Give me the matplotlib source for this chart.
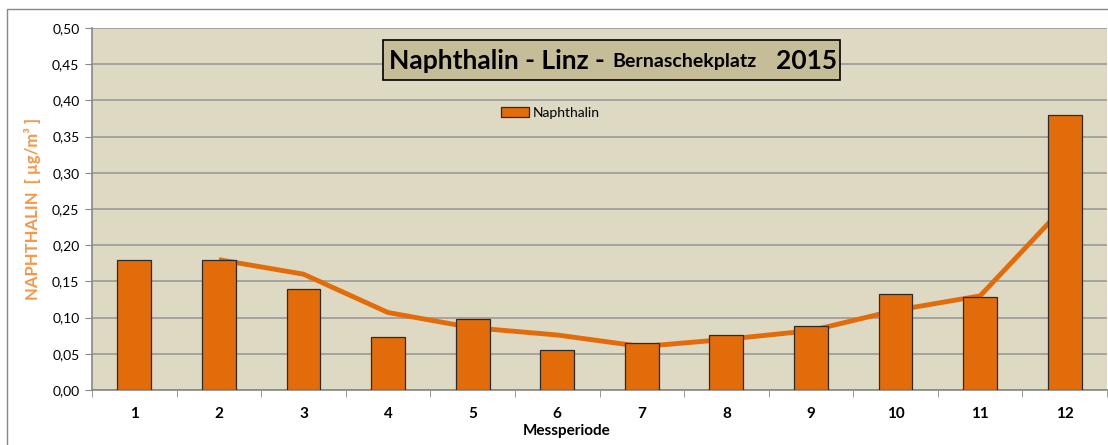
import matplotlib.pyplot as plt
from matplotlib.patches import Rectangle

plt.rcParams['font.family'] = ['Lato', 'DejaVu Sans']

# Messperioden and measured values (µg/m³)
perioden = ['1', '2', '3', '4', '5', '6', '7', '8', '9', '10', '11', '12']
naphthalin = [0.180, 0.180, 0.139, 0.073, 0.098, 0.055, 0.065, 0.076, 0.088, 0.132, 0.128, 0.380]
# trend line (starts at period 2, drawn behind the bars)
trend_perioden = perioden[1:]
trend = [0.180, 0.160, 0.107, 0.086, 0.076, 0.060, 0.070, 0.082, 0.110, 0.130, 0.254]
y_ticks = [0.0, 0.05, 0.10, 0.15, 0.20, 0.25, 0.30, 0.35, 0.40, 0.45, 0.50]

orange = '#E36C0A'
fig = plt.figure(figsize=(11.08, 4.45), dpi=100)
ax = fig.add_axes([92 / 1108, 1 - 390 / 445, 1015 / 1108, 362 / 445])
ax.set_facecolor('#DDD9C3')

x = list(range(len(perioden)))
ax.bar(x, naphthalin, width=0.4, color=orange, edgecolor='#2b2b2b', linewidth=0.9,
       label='Naphthalin', zorder=3)
tx = [perioden.index(p) for p in trend_perioden]
ax.plot(tx, trend, color=orange, linewidth=3.5, solid_capstyle='butt', zorder=2)

ax.set_xlim(-0.5, len(perioden) - 0.5)
ax.set_ylim(0, 0.5)
ax.set_yticks(y_ticks)
ax.set_yticklabels([f'{v:.2f}'.replace('.', ',') for v in y_ticks], fontsize=10)
ax.set_xticks(x)
ax.set_xticklabels(perioden, fontsize=11, fontweight='bold')
ax.set_xticks([i - 0.5 for i in range(len(perioden) + 1)], minor=True)
ax.tick_params(axis='x', which='major', length=0, pad=12)
ax.tick_params(axis='x', which='minor', length=5, color='#888888')
ax.tick_params(axis='y', length=5, color='#888888', pad=4)
ax.grid(axis='y', color='#9a9a9a', linewidth=1.2, zorder=0)
for s in ['top', 'right']:
    ax.spines[s].set_visible(False)
for s in ['left', 'bottom']:
    ax.spines[s].set_color('#888888')
    ax.spines[s].set_linewidth(1.2)

ax.set_xlabel('Messperiode', fontsize=11, fontweight='bold')
ax.xaxis.set_label_coords((567 - 92) / 1015, -0.095)
ax.set_ylabel('NAPHTHALIN  [ µg/m³ ]', fontsize=12, fontweight='bold', color='#F79646', labelpad=8)

# title box
fig.patches.append(Rectangle((383 / 1108, 1 - 80 / 445), 457 / 1108, 40 / 445,
                             transform=fig.transFigure, facecolor='#C4BD97',
                             edgecolor='black', linewidth=1.2, zorder=5))
fig.text(389 / 1108, 1 - 61 / 445, 'Naphthalin - Linz - ', fontsize=19, fontweight='bold',
         va='center', ha='left', zorder=6)
fig.text(612 / 1108, 1 - 62 / 445, 'Bernaschekplatz', fontsize=14, fontweight='bold',
         va='center', ha='left', zorder=6)
fig.text(776 / 1108, 1 - 61 / 445, '2015', fontsize=19, fontweight='bold',
         va='center', ha='left', zorder=6)

ax.legend(loc='upper left', bbox_to_anchor=((494 - 92) / 1015, (390 - 100) / 362), frameon=False,
          fontsize=10, handlelength=2.0, handleheight=0.7, handletextpad=0.3, borderpad=0)

# outer chart border
fig.patches.append(Rectangle((7 / 1108, -0.05), 1.2, 1 - 9 / 445 + 0.05,
                             transform=fig.transFigure, facecolor='none',
                             edgecolor='#888888', linewidth=1.0))

fig.savefig('out.png', dpi=100)
